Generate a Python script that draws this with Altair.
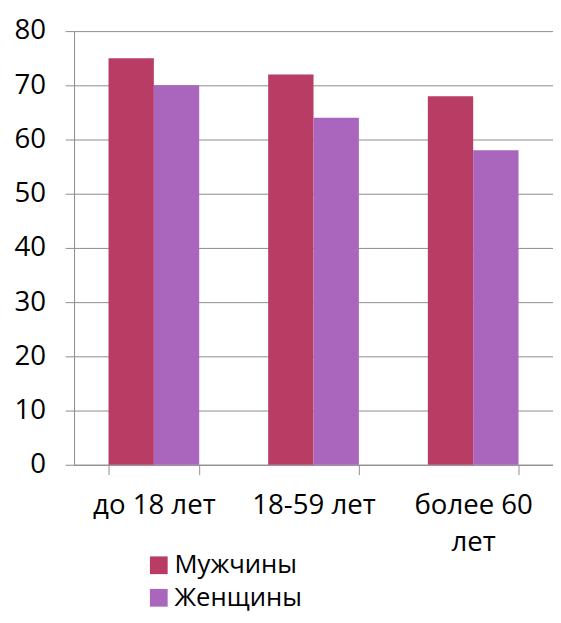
import altair as alt
import pandas as pd

categories = ["до 18 лет", "18-59 лет", "более 60 лет"]
series = ["Мужчины", "Женщины"]
men = [75, 72, 68]
women = [70, 64, 58]
colors = ["#B83C64", "#A966BC"]
y_ticks = [0, 10, 20, 30, 40, 50, 60, 70, 80]

rows = []
for c, m, w in zip(categories, men, women):
    rows.append({"cat": c, "series": series[0], "value": m})
    rows.append({"cat": c, "series": series[1], "value": w})
df = pd.DataFrame(rows)

FONT = "Open Sans"
GRID = "#8c8c8c"

chart = alt.Chart(df).mark_bar().encode(
    x=alt.X(
        "cat:N", sort=categories, title=None,
        scale=alt.Scale(paddingInner=0.432, paddingOuter=0.216),
        axis=alt.Axis(
            labelAngle=0, labelFontSize=28, labelFont=FONT, labelColor="#000",
            tickBand="extent", tickSize=10, tickColor=GRID, domainColor=GRID,
            labelPadding=17, labelLineHeight=38, grid=False,
            labelExpr="datum.label == 'более 60 лет' ? ['более 60', 'лет'] : datum.label",
        ),
    ),
    xOffset=alt.XOffset("series:N", sort=series, scale=alt.Scale(paddingInner=0, paddingOuter=0)),
    y=alt.Y(
        "value:Q", title=None, scale=alt.Scale(domain=[0, 80]),
        axis=alt.Axis(
            values=y_ticks, labelFontSize=28, labelFont=FONT, labelColor="#000",
            tickSize=9, tickColor=GRID, domainColor=GRID, gridColor=GRID,
            labelPadding=20, grid=True,
        ),
    ),
    color=alt.Color(
        "series:N", sort=series,
        scale=alt.Scale(domain=series, range=colors),
        legend=alt.Legend(
            orient="none", legendX=73, legendY=529, title=None,
            symbolType="square", symbolSize=324, symbolStrokeWidth=0,
            labelFontSize=26, labelFont=FONT, labelColor="#000",
            labelOffset=3, rowPadding=7,
        ),
    ),
).properties(
    width=486, height=440,
    autosize=alt.AutoSizeParams(type="none"),
    padding={"left": 67, "top": 19, "right": 0, "bottom": 148},
).configure_view(stroke=None)

chart.save("out.html", embed_options={"renderer": "svg", "actions": False})
